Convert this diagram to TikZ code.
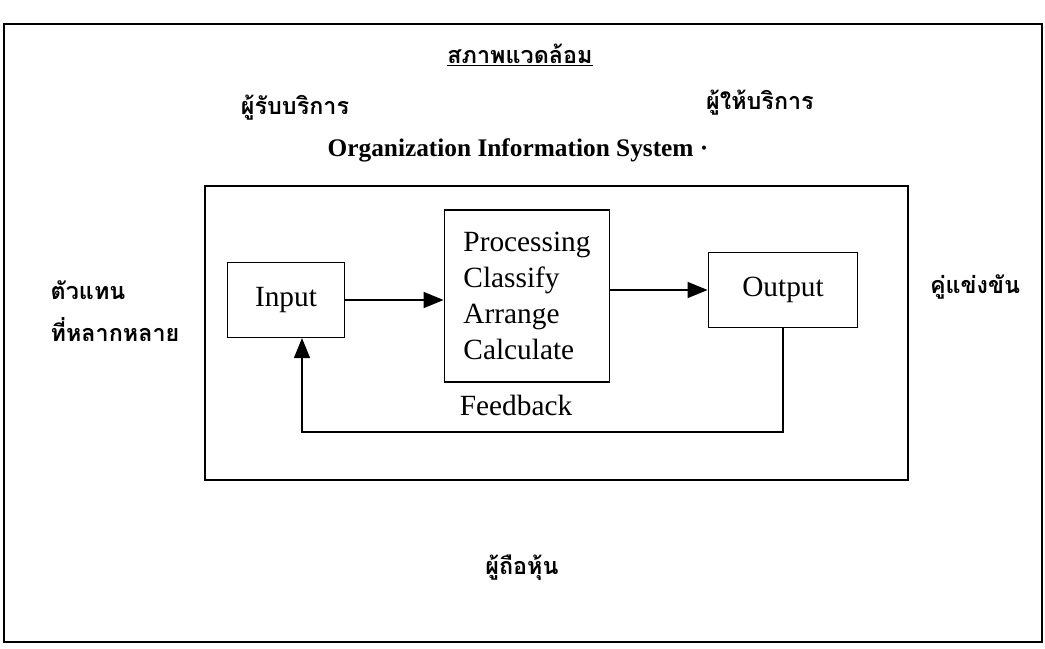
\documentclass[tikz,border=0pt]{standalone}
\usepackage{fontspec}
\setmainfont{Liberation Serif}
\newfontfamily\thaifont[Script=Thai]{Loma}
\usepackage{tikz}
\usetikzlibrary{arrows.meta}

\tikzset{
  blk/.style={draw, line width=1.1pt, inner sep=0pt, font=\fontsize{22}{27}\selectfont},
  thai/.style={font=\thaifont\bfseries\fontsize{17.5}{22}\selectfont},
  flow/.style={-{Triangle[length=15pt,width=12pt]}, line width=1.1pt}
}

\begin{document}
\begin{tikzpicture}[x=0.75pt, y=-0.75pt]
 \useasboundingbox (0,0) rectangle (1045,649);
 \draw[line width=1.3pt] (4,24) rectangle (1042,642);
 % surrounding labels
 \node[thai] (env)    at (520,55)  {\underline{สภาพแวดล้อม}};
 \node[thai] (client) at (295,108) {ผู้รับบริการ};
 \node[thai] (provider) at (760,103) {ผู้ให้บริการ};
 \node[thai, anchor=west] (agent1) at (46,290) {ตัวแทน};
 \node[thai, anchor=west] (agent2) at (46,330) {ที่หลากหลาย};
 \node[thai] (rival)  at (975,287) {คู่แข่งขัน};
 \node[thai] (holder) at (522,568) {ผู้ถือหุ้น};
 \node[font=\bfseries\fontsize{19}{23}\selectfont] (title) at (518,150) {Organization Information System ·};
 % the system
 \draw[line width=1.3pt] (205,186) rectangle (908,480);
 \node[blk, minimum width=88pt, minimum height=56pt] (in) at (286,300) {Input\hspace{6pt}};
 \node[blk, minimum width=124pt, minimum height=129pt, align=left] (proc) at (527,296)
   {Processing\\Classify\\Arrange\\Calculate};
 \node[blk, minimum width=112pt, minimum height=56pt] (out) at (783,290) {Output};
 \node[font=\fontsize{22}{27}\selectfont] (fbk) at (516,405) {Feedback};
 \coordinate (loop) at (516,432);

 \path[flow]
  (in.east) edge (in.east -| proc.west)
  (proc.east |- out.west) edge (out.west);
 \draw[flow] (out.south) |- (loop) -| ([xshift=12pt]in.south);
\end{tikzpicture}
\end{document}
